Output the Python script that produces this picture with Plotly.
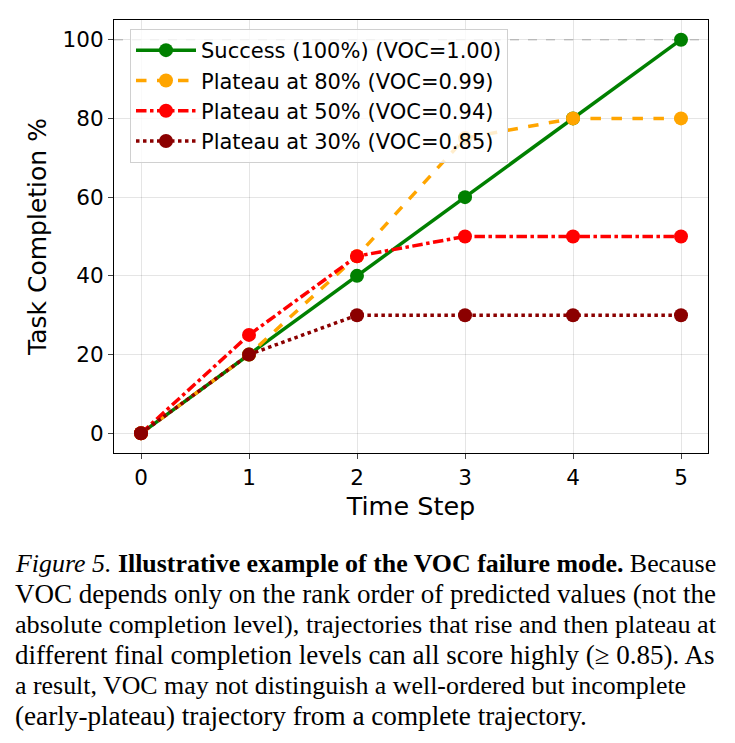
import plotly.graph_objects as go

steps = [0, 1, 2, 3, 4, 5]
success = [0, 20, 40, 60, 80, 100]
plateau80 = [0, 20, 45, 75, 80, 80]
plateau50 = [0, 25, 45, 50, 50, 50]
plateau30 = [0, 20, 30, 30, 30, 30]
names = ["Success (100%) (VOC=1.00)", "Plateau at 80% (VOC=0.99)",
         "Plateau at 50% (VOC=0.94)", "Plateau at 30% (VOC=0.85)"]
colors = ["green", "orange", "red", "darkred"]
dashes = ["solid", "dash", "dashdot", "dot"]
series = [success, plateau80, plateau50, plateau30]

caption_lines = [
    "<i>Figure 5.</i> <b>Illustrative example of the VOC failure mode.</b> Because",
    "VOC depends only on the rank order of predicted values (not the",
    "absolute completion level), trajectories that rise and then plateau at",
    "different final completion levels can all score highly (≥ 0.85). As",
    "a result, VOC may not distinguish a well-ordered but incomplete",
    "(early-plateau) trajectory from a complete trajectory.",
]
caption_sizes = [25.9, 27.0, 26.2, 27.0, 25.9, 27.2]

W, H = 735, 743
L, R, T, B = 114, 708, 20, 453
pw, ph = R - L, B - T

fig = go.Figure()
fig.add_shape(type="line", xref="paper", yref="y", x0=0, x1=1, y0=100, y1=100,
              line=dict(color="rgba(160,160,160,0.5)", width=1.5, dash="dash"), layer="below")
for s, n, c, d in zip(series, names, colors, dashes):
    fig.add_trace(go.Scatter(x=steps, y=s, name=n, mode="lines+markers",
                             line=dict(color=c, width=3.5, dash=d),
                             marker=dict(color=c, size=14)))

def px(x):
    return (x - L) / pw

def py(y):
    return (B - y) / ph

for i, (t, fs) in enumerate(zip(caption_lines, caption_sizes)):
    fig.add_annotation(text=t, xref="paper", yref="paper", x=px(13), y=py(563 + i * 30.6),
                       xanchor="left", yanchor="middle", showarrow=False, align="left",
                       font=dict(family="Liberation Serif", size=fs, color="black"))

fig.update_layout(
    width=W, height=H, margin=dict(l=L, r=W - R, t=T, b=H - B),
    plot_bgcolor="white", paper_bgcolor="white",
    font=dict(family="DejaVu Sans", color="black"),
    showlegend=True,
    legend=dict(x=px(130), y=py(29), xanchor="left", yanchor="top",
                bgcolor="rgba(255,255,255,0.8)", bordercolor="#d0d0d0", borderwidth=1,
                font=dict(size=21), itemwidth=60, tracegroupgap=0),
)
fig.update_xaxes(range=[-0.25, 5.25], tickvals=steps, showline=True, mirror=True,
                 linecolor="black", linewidth=1.2, ticks="outside", ticklen=5,
                 tickfont=dict(size=21.5), showgrid=True, gridcolor="rgba(0,0,0,0.1)",
                 zeroline=False, title=dict(text="Time Step", font=dict(size=25.5), standoff=8))
fig.update_yaxes(range=[-5, 105], tickvals=[0, 20, 40, 60, 80, 100], showline=True, mirror=True,
                 linecolor="black", linewidth=1.2, ticks="outside", ticklen=5,
                 tickfont=dict(size=21.5), showgrid=True, gridcolor="rgba(0,0,0,0.1)",
                 zeroline=False, title=dict(text="Task Completion %", font=dict(size=25), standoff=8))

fig.write_html("out.html")
